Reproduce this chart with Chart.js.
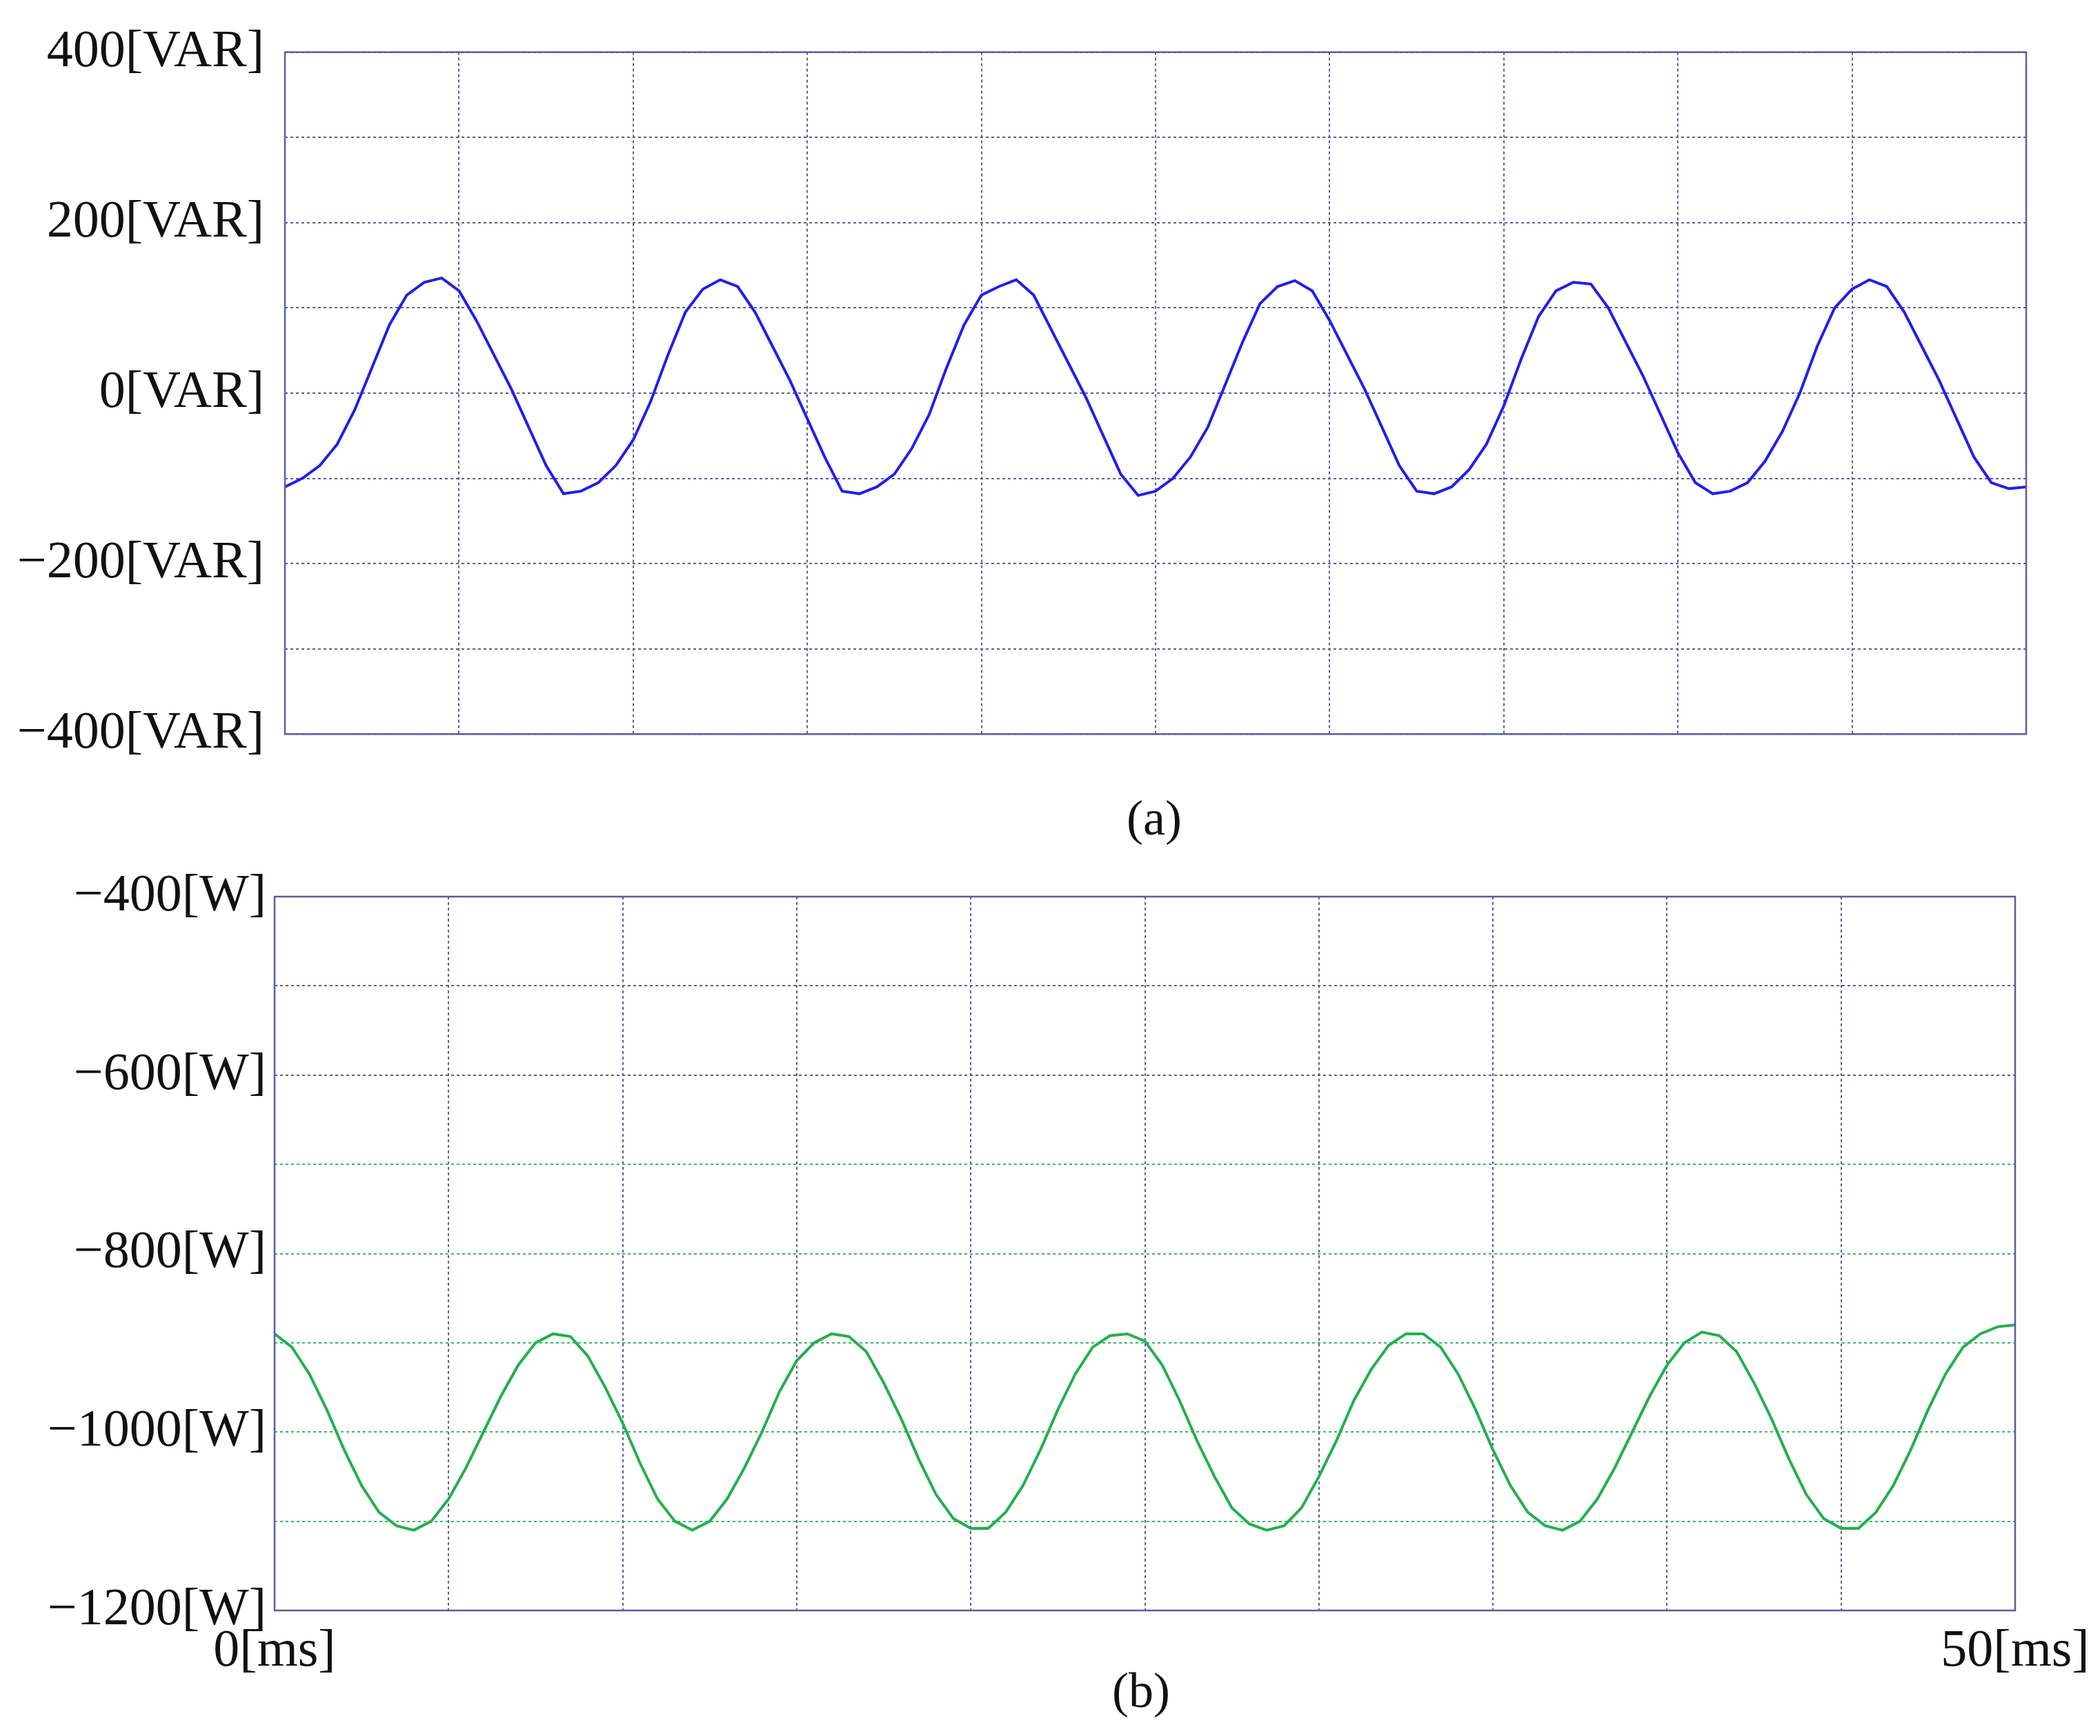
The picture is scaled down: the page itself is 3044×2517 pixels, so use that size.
<!DOCTYPE html>
<html>
<head>
<meta charset="utf-8">
<script src="https://cdn.jsdelivr.net/npm/chart.js@4.4.1/dist/chart.umd.min.js"></script>
<style>
  body{margin:0;background:#fff;width:3044px;height:2517px;position:relative;overflow:hidden;font-family:"Liberation Serif","DejaVu Serif",serif;}
  .box{position:absolute;left:0;width:3044px;}
  .cap{position:absolute;font-size:72px;color:#111;transform:translateX(-50%);}
</style>
</head>
<body>
<div class="box" style="top:0;height:1140px"><canvas id="cQ"></canvas></div>
<div class="box" style="top:1200px;height:1240px"><canvas id="cP"></canvas></div>
<div class="cap" style="left:1673px;top:1145px">(a)</div>
<div class="cap" style="left:1654px;top:2410px">(b)</div>
<script>
/* ---------- data (0.5 ms steps, 0..50 ms) ---------- */
const timeMs = Array.from({length:101},(_,i)=>i*0.5);
const reactiveVAR = [
  -110,-100,-85,-60,-20,30,80,115,130,135,120,85,45,5,-40,-85,-118,
  -115,-105,-85,-55,-10,45,95,122,133,125,95,55,15,-30,-75,-115,
  -118,-110,-95,-65,-25,30,80,115,125,133,115,75,35,-5,-50,-95,
  -120,-115,-100,-75,-40,10,60,105,125,132,120,85,45,5,-40,-85,-115,
  -118,-110,-90,-60,-15,40,90,120,130,128,100,60,20,-25,-70,-105,
  -118,-115,-105,-80,-45,0,55,100,122,133,125,95,55,15,-30,-75,-105,-112,-110
];
const activeW = [
  -890,-905,-935,-975,-1020,-1060,-1090,-1105,-1110,-1100,-1075,-1040,-1000,-960,-925,-900,-890,
  -893,-915,-950,-990,-1035,-1075,-1100,-1110,-1100,-1075,-1040,-1000,-955,-920,-900,-890,
  -893,-910,-945,-985,-1030,-1070,-1097,-1108,-1108,-1090,-1060,-1020,-975,-935,-905,-892,
  -890,-898,-925,-965,-1010,-1050,-1085,-1103,-1110,-1105,-1085,-1050,-1010,-965,-930,-903,-890,
  -890,-905,-935,-975,-1020,-1060,-1090,-1105,-1110,-1100,-1075,-1040,-1000,-960,-925,-900,-888,
  -892,-910,-945,-985,-1030,-1070,-1097,-1108,-1108,-1090,-1060,-1020,-975,-935,-905,-890,-882,-880
];
const qTicksShown = [400,200,0,-200,-400];
const pTicksShown = [-400,-600,-800,-1000,-1200];
const xTicksShown = [0,50];

const minus = (v)=>String(v).replace('-','\u2212');
const gridBlue = '#5b5ba8';
const gridGreen = '#2fbf5a';
const tickFont = {family:'"Liberation Serif","DejaVu Serif",serif', size:76};

// frame around chart area
const framePlugin = {
  id:'frame',
  afterDraw(chart){
    const a=chart.chartArea, c=chart.ctx;
    c.save(); c.strokeStyle=gridBlue; c.lineWidth=2.5; c.setLineDash([]);
    c.strokeRect(a.left,a.top,a.right-a.left,a.bottom-a.top); c.restore();
  }
};

function makeChart(id, vals, color, yMin, yMax, shown, unit, opts){
  return new Chart(document.getElementById(id),{
    type:'line',
    data:{datasets:[{data:timeMs.map((t,i)=>({x:t,y:vals[i]})), borderColor:color, borderWidth:4, pointRadius:0, tension:0}]},
    options:{
      responsive:true, maintainAspectRatio:false, animation:false, devicePixelRatio:1,
      layout:{padding:opts.padding},
      plugins:{legend:{display:false},tooltip:{enabled:false}},
      scales:{
        x:{type:'linear', min:0, max:50,
          afterFit:(s)=>{s.height=opts.xh;},
          ticks:{display:opts.xLabels, stepSize:5, autoSkip:false, maxRotation:0, padding:14, color:'#111', font:tickFont,
            callback:(v)=>xTicksShown.includes(v)?v+'[ms]':''},
          grid:{color:gridBlue, lineWidth:2, tickLength:0, drawTicks:false},
          border:{display:false, dash:[4,4]}},
        y:{min:yMin, max:yMax,
          afterFit:(s)=>{s.width=opts.yw;},
          ticks:{stepSize:100, autoSkip:false, padding:opts.ypad, color:'#111', font:tickFont,
            callback:(v)=>shown.includes(v)?minus(v)+'['+unit+']':''},
          grid:{color:opts.gridColor||gridBlue, lineWidth:2, drawTicks:false},
          border:{display:false, dash:[4,4]}}
      }
    },
    plugins:[framePlugin]
  });
}

makeChart('cQ', reactiveVAR, '#1f1fef', -400, 400, qTicksShown, 'VAR',
  {padding:{top:26,bottom:35,left:0,right:107}, yw:413, xh:0, xLabels:false, ypad:30});
makeChart('cP', activeW, '#22b04b', -1200, -400, pTicksShown, 'W',
  {padding:{top:100,bottom:5,left:0,right:123}, yw:398, xh:100, xLabels:true, ypad:12,
   gridColor:(ctx)=>(ctx.tick && ctx.tick.value<=-700 && ctx.tick.value>-1200)?gridGreen:gridBlue});
</script>
</body>
</html>
